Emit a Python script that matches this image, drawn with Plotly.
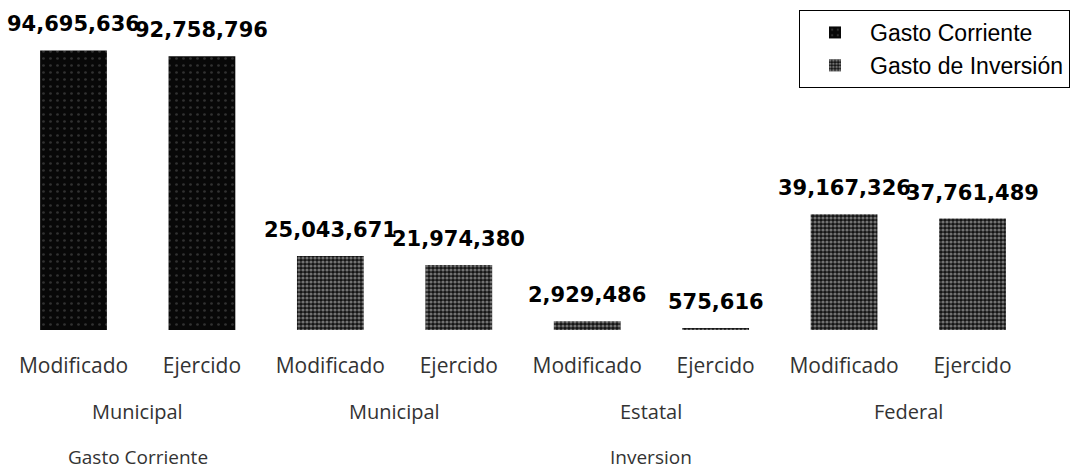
import plotly.graph_objects as go

# ---- data ----
categories = ["GC-Mun-Mod", "GC-Mun-Ejer", "Inv-Mun-Mod", "Inv-Mun-Ejer",
              "Inv-Est-Mod", "Inv-Est-Ejer", "Inv-Fed-Mod", "Inv-Fed-Ejer"]
tick_labels = ["Modificado", "Ejercido", "Modificado", "Ejercido",
               "Modificado", "Ejercido", "Modificado", "Ejercido"]
corriente_cats = categories[:2]
corriente_vals = [94695636, 92758796]
inversion_cats = categories[2:]
inversion_vals = [25043671, 21974380, 2929486, 575616, 39167326, 37761489]
level2_labels = ["Municipal", "Municipal", "Estatal", "Federal"]
level2_pos = [0.5, 2.5, 4.5, 6.5]
level3_labels = ["Gasto Corriente", "Inversion"]
level3_pos = [0.5, 4.5]

W, H = 1072, 474
ML, MR, MT, MB = 5, 31, 20, 144

fig = go.Figure()
fig.add_trace(go.Bar(
    x=corriente_cats, y=corriente_vals, name="Gasto Corriente",
    marker=dict(color="#080808", line=dict(width=0),
                pattern=dict(shape=".", bgcolor="#080808", fgcolor="#5a5a5a",
                             size=7, solidity=0.12)),
))
fig.add_trace(go.Bar(
    x=inversion_cats, y=inversion_vals, name="Gasto de Inversión",
    marker=dict(color="#1a1a1a", line=dict(width=0),
                pattern=dict(shape=".", bgcolor="#141414", fgcolor="#d0d0d0",
                             size=4, solidity=0.5)),
))

# value labels
for cat, val in list(zip(corriente_cats, corriente_vals)) + list(zip(inversion_cats, inversion_vals)):
    fig.add_annotation(x=cat, y=val, text=f"{val:,}", showarrow=False,
                       yanchor="bottom", yshift=12,
                       font=dict(family="DejaVu Sans", size=21, color="#000000",
                                 weight="bold"))

# group labels
for lab, pos in zip(level2_labels, level2_pos):
    fig.add_annotation(x=pos, xref="x", y=0, yref="paper", text=lab, showarrow=False,
                       yanchor="middle", yshift=-81,
                       font=dict(family="Open Sans", size=20, color="#333333"))
for lab, pos in zip(level3_labels, level3_pos):
    fig.add_annotation(x=pos, xref="x", y=0, yref="paper", text=lab, showarrow=False,
                       yanchor="middle", yshift=-127,
                       font=dict(family="Open Sans", size=19, color="#333333"))

pw = W - ML - MR
ph = H - MT - MB
fig.update_layout(
    width=W, height=H,
    margin=dict(l=ML, r=MR, t=MT, b=MB, autoexpand=False),
    paper_bgcolor="white", plot_bgcolor="white",
    barmode="overlay", bargap=0.48,
    showlegend=True,
    legend=dict(x=(1070 - ML) / pw, y=(H - MB - 10) / ph, xanchor="right", yanchor="top",
                bgcolor="white", bordercolor="#000000", borderwidth=1,
                font=dict(family="Liberation Sans", size=23, color="#000000"),
                itemwidth=60, tracegroupgap=0),
    xaxis=dict(type="category", categoryorder="array", categoryarray=categories,
               tickvals=categories, ticktext=tick_labels, showline=False,
               showgrid=False, zeroline=False, ticks="", ticklabelstandoff=21,
               tickfont=dict(family="Open Sans", size=21, color="#333333")),
    yaxis=dict(range=[0, 105000000], visible=False, showgrid=False, zeroline=False),
)

fig.write_html("out.html", config={"displayModeBar": False},
               post_script="document.body.style.margin='0px';document.body.style.overflow='hidden';")
